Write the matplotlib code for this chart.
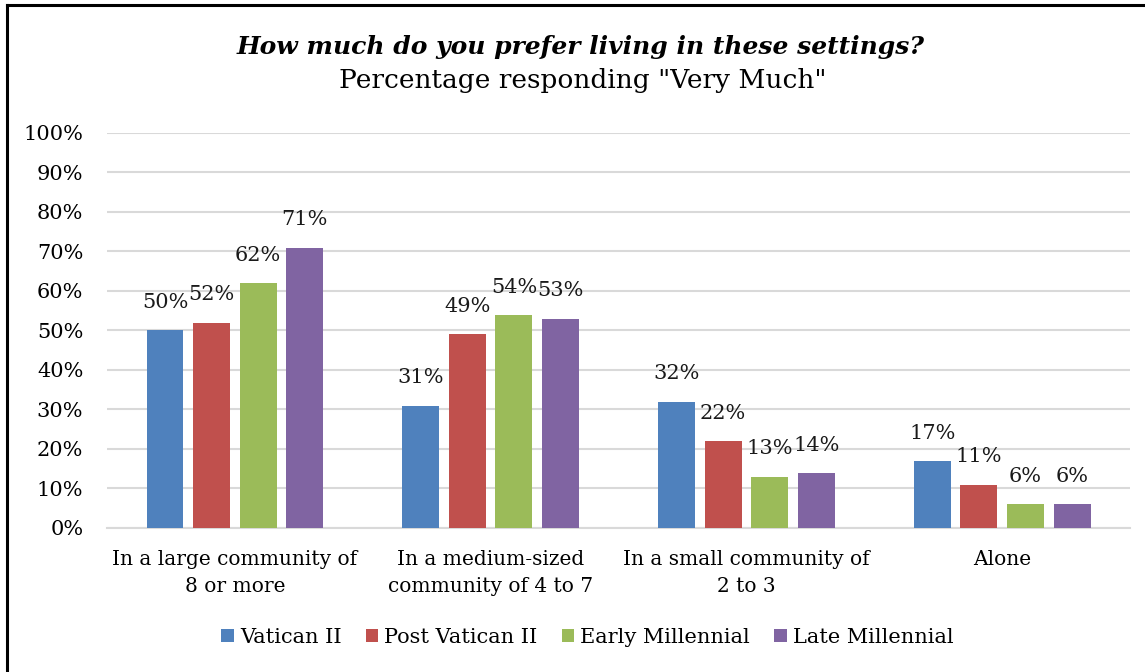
import matplotlib.pyplot as plt
import numpy as np
from matplotlib.lines import Line2D

categories = ["In a large community of\n8 or more",
              "In a medium-sized\ncommunity of 4 to 7",
              "In a small community of\n2 to 3",
              "Alone"]
series = ["Vatican II", "Post Vatican II", "Early Millennial", "Late Millennial"]
vatican2 = [50, 31, 32, 17]
post_vatican2 = [52, 49, 22, 11]
early_mill = [62, 54, 13, 6]
late_mill = [71, 53, 14, 6]
colors = ["#4F81BD", "#C0504D", "#9BBB59", "#8064A2"]

plt.rcParams['font.family'] = ['DejaVu Serif']

fig = plt.figure(figsize=(11.45, 6.72), dpi=100)
ax = fig.add_axes([0.0934, 0.2143, 0.8936, 0.5878])

x = np.arange(len(categories))
width = 0.1445
step = 0.182
for i, (vals, c) in enumerate(zip([vatican2, post_vatican2, early_mill, late_mill], colors)):
    pos = x + (i - 1.5) * step
    bars = ax.bar(pos, vals, width, color=c, label=series[i], zorder=3)
    for b, v in zip(bars, vals):
        ax.text(b.get_x() + b.get_width() / 2, v + 4.6, f"{v}%", ha='center', va='bottom',
                fontsize=15, color='#1a1a1a')

ax.set_xlim(-0.5, 3.5)
ax.set_ylim(0, 100)
ax.set_yticks(range(0, 101, 10))
ax.set_yticklabels([f"{t}%" for t in range(0, 101, 10)], fontsize=15)
ax.set_xticks(x)
ax.set_xticklabels(categories, fontsize=14.5, linespacing=1.55)
ax.grid(axis='y', color='#d9d9d9', linewidth=1.5, zorder=0)
for s in ['top', 'right', 'left']:
    ax.spines[s].set_visible(False)
ax.spines['bottom'].set_color('#d9d9d9')
ax.spines['bottom'].set_linewidth(1.5)
ax.tick_params(axis='x', length=0, pad=16)
ax.tick_params(axis='y', length=0, pad=17)

fig.text(0.507, 0.93, "How much do you prefer living in these settings?", ha='center', va='center',
         fontsize=18, fontweight='bold', fontstyle='italic')
fig.text(0.509, 0.88, 'Percentage responding "Very Much"', ha='center', va='center', fontsize=19)

fig.legend(loc='center', bbox_to_anchor=(0.513, 0.052), ncol=4, frameon=False, fontsize=15,
           handlelength=0.6, handleheight=0.6, handletextpad=0.3, columnspacing=1.15)

fig.add_artist(Line2D([0.0057, 0.0057], [0, 0.993], transform=fig.transFigure,
                      color='black', linewidth=2.2))
fig.add_artist(Line2D([0.0057, 1], [0.993, 0.993], transform=fig.transFigure,
                      color='black', linewidth=2.2))

fig.savefig("out.png", dpi=100)
